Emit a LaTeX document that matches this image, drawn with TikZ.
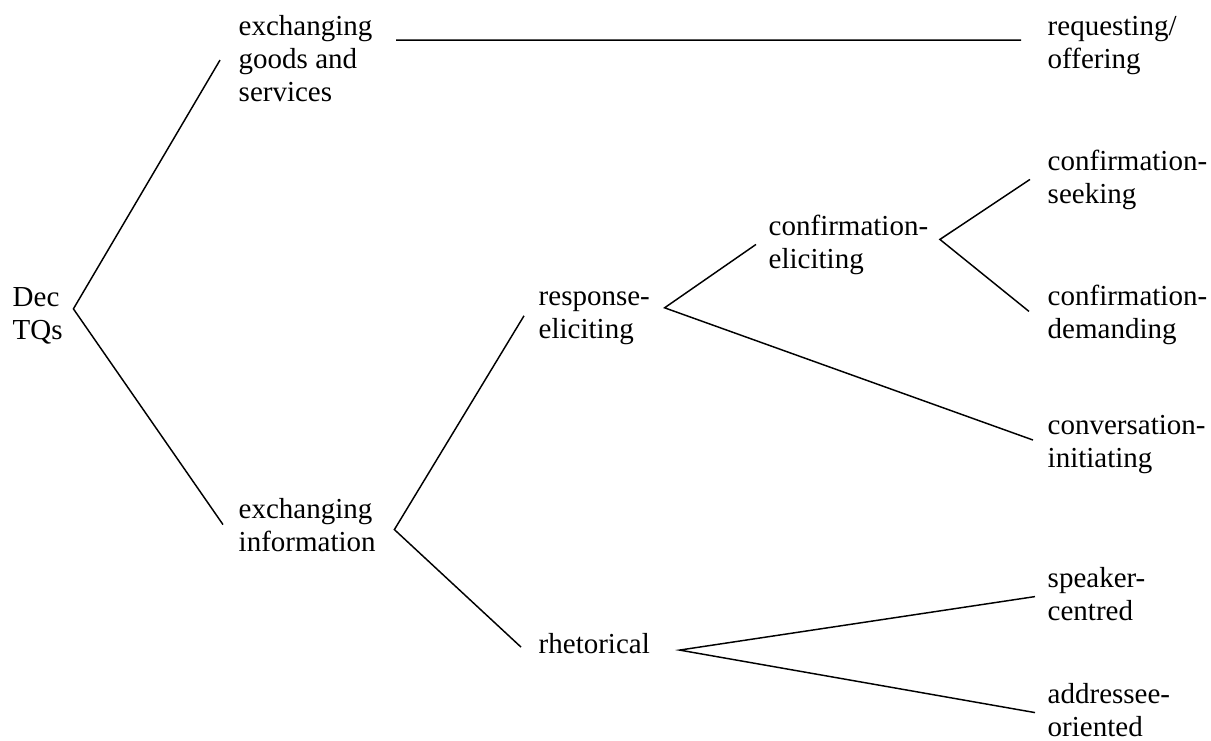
\documentclass[tikz,border=0pt]{standalone}
\usepackage{fontspec}
\setmainfont{Liberation Serif}
\usepackage{tikz}

\begin{document}
\begin{tikzpicture}[x=0.75pt, y=-0.75pt, line width=1.1pt,
  term/.style={anchor=base west, inner sep=0pt, align=left,
    font=\fontsize{21.75pt}{24.75pt}\selectfont}]
  \useasboundingbox (0,0) rectangle (1211,740);

  % Root and first split
  \node[term] (dec) at (12,339)   {Dec\\TQs};
  \node[term] (egs) at (238,101)  {exchanging\\goods and\\services};
  \node[term] (ei)  at (238,551)  {exchanging\\information};

  % Second and third level
  \node[term] (re) at (538,338)   {response-\\eliciting};
  \node[term] (rh) at (538,653)   {rhetorical};
  \node[term] (ce) at (768,268)   {confirmation-\\eliciting};

  % Leaves (right column)
  \node[term] (req) at (1047,68)  {requesting/\\offering};
  \node[term] (cs)  at (1047,203) {confirmation-\\seeking};
  \node[term] (cd)  at (1047,338) {confirmation-\\demanding};
  \node[term] (ci)  at (1047,467) {conversation-\\initiating};
  \node[term] (sc)  at (1047,620) {speaker-\\centred};
  \node[term] (ao)  at (1047,736) {addressee-\\oriented};

  \draw ([shift={(-18,2)}]egs.west) -- ([shift={(10,-6.5)}]dec.east)
        -- ([shift={(-15,0)}]ei.west);
  \draw ([shift={(23,-18)}]egs.east) -- ([shift={(-26,-5)}]req.west);
  \draw ([shift={(-14,-2)}]re.west) -- ([shift={(18,5)}]ei.east)
        -- ([shift={(-17,4)}]rh.west);
  \draw ([shift={(-12,0)}]ce.west) -- ([shift={(14,-10)}]re.east)
        -- ([shift={(-14,-4)}]ci.west);
  \draw ([shift={(-17,0)}]cs.west) -- ([shift={(11,-5)}]ce.east)
        -- ([shift={(-18,-3)}]cd.west);
  \draw ([shift={(-12,3)}]sc.west) -- ([shift={(29,7)}]rh.east)
        -- ([shift={(-12,3)}]ao.west);
\end{tikzpicture}
\end{document}
